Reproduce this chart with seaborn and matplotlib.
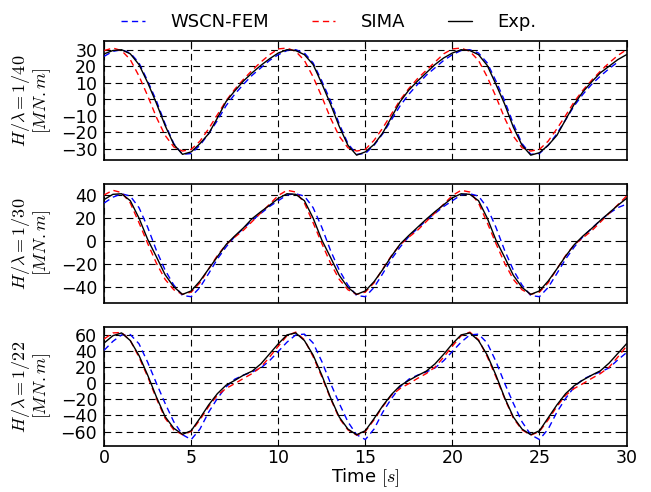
import numpy as np
import pandas as pd
import matplotlib
matplotlib.use("Agg")
import matplotlib.pyplot as plt
import seaborn as sns

time = np.arange(0, 30.01, 0.5)
time_blue_top = time[:-1]  # WSCN-FEM in the top panel stops at 29.5 s

# H/lambda = 1/40
exp_40 = [27.5, 29.5, 30, 27.5, 21, 10, -2.5, -16, -27.5, -33.5, -32, -27, -21, -11.5, -1.5, 5, 11, 16, 20.5, 24.5,
          28, 30, 29.5, 27, 21, 9.5, -3, -16.5, -28, -34, -32, -27.5, -20.5, -11, -1.5, 5.5, 11, 16, 21, 25,
          28, 30, 29.5, 27, 20.5, 9, -3, -17, -28, -34, -32.5, -28, -22, -12.5, -3, 4.5, 10.5, 16, 20, 24,
          27]
sima_40 = [29.5, 31, 29.5, 24, 14, 2, -11, -22, -29, -31.5, -30.5, -25.5, -18, -9.5, -1, 6, 12, 17.5, 22.5, 27,
           30.5, 31, 29, 23.5, 13.5, 1.5, -11.5, -22.5, -29.5, -31.5, -30.5, -25, -17.5, -9, -0.5, 6.5, 12.5, 17.5, 22.5, 27.5,
           30.5, 31, 29, 23.5, 13.5, 1.5, -11.5, -22.5, -29.5, -31.5, -30.5, -25.5, -18, -10, -1.5, 5.5, 11.5, 17, 22, 26.5,
           30]
wscn_40 = [26, 29, 30, 28, 22, 11, -1, -15, -27, -33.5, -33, -28, -21, -13, -4, 3, 9, 14.5, 19, 23.5,
           27, 29.5, 30, 28, 22, 11, -1, -15, -27, -33.5, -33, -28, -21, -12.5, -4, 3, 9, 14.5, 19, 23.5,
           27, 29.5, 30, 28, 22, 11, -1, -15, -27, -33.5, -33, -28, -21, -12.5, -4, 3, 9, 14, 18.5, 22.5]

# H/lambda = 1/30
exp_30 = [36, 40.5, 41, 35, 20, 1.5, -13.5, -29, -39.5, -46, -43, -34.5, -24, -13.5, -3, 4.5, 11.5, 19.5, 25.5, 31,
          37, 41, 40.5, 35, 20, 1, -14, -29.5, -40, -46, -43, -35, -24.5, -13, -2.5, 5, 12, 19, 25.5, 31.5,
          37.5, 41, 40.5, 35, 20, 1, -14, -29.5, -40, -46, -43, -34.5, -24, -13, -3, 4.5, 11, 18, 24.5, 31,
          37]
sima_30 = [40, 44, 42, 33, 16, -2, -19, -33, -42, -46, -44, -36, -24, -12.5, -3, 3.5, 9.5, 17, 24.5, 32,
           39.5, 44, 42.5, 33, 16, -2, -19, -33, -42, -46, -44, -36, -24, -12.5, -3, 3.5, 9.5, 17, 24.5, 32,
           39.5, 44, 42.5, 33, 16, -2, -19, -33, -42, -46, -44, -36, -24, -12.5, -3, 3, 9, 16.5, 24, 31.5,
           39]
wscn_30 = [33, 38, 41, 39, 29, 12, -8, -25, -38, -47, -48, -40, -28, -15.5, -5, 4, 11, 18, 24, 30,
           35, 40, 41, 39, 29, 12, -8, -25, -38, -47, -48, -40, -28, -15.5, -5, 4, 11, 18, 24, 30,
           35, 40, 41, 39, 29, 12, -8, -25, -38, -47, -48, -40, -28, -15.5, -5, 4, 11, 18, 24, 29,
           32]

# H/lambda = 1/22
exp_22 = [50, 59, 62.5, 53, 34.5, 10, -17, -41.5, -56, -63.5, -59, -43.5, -27, -13, -2.5, 3.5, 10, 15, 24, 36.5,
          49, 60, 62.5, 53, 35, 10, -18, -42, -57, -64, -59, -44, -28, -14, -3, 3.5, 9.5, 15, 24, 36,
          49, 60, 62.5, 53, 35, 10, -18, -42, -57, -64, -59, -43, -27, -13, -3, 4, 10, 15.5, 25, 37,
          49]
sima_22 = [55, 62.5, 63, 53, 32.5, 8, -19, -43.5, -58, -64, -60, -45.5, -29, -15, -6.5, -0.5, 6, 12, 20, 32.5,
           46, 59, 63.5, 54, 33, 8, -19, -43.5, -58, -64.5, -60, -45.5, -29, -15, -6.5, -0.5, 6, 12, 20, 32.5,
           46, 59, 63.5, 54, 33, 8, -19, -43.5, -58, -64.5, -60, -45.5, -29, -15, -6.5, -0.5, 6, 12, 20, 32.5,
           46]
wscn_22 = [41, 52, 60, 60.5, 49, 26, 0, -25, -48, -64, -70, -57, -36, -19, -4.5, 5, 10, 14, 19, 28,
           39.5, 51, 60, 61, 50, 27, 0, -25, -48, -64, -70, -57, -36, -19, -4.5, 5, 10, 14, 19, 28,
           39.5, 51, 60, 61, 50, 27, 0, -25, -48, -64, -70, -57, -36, -19, -4.5, 5, 10, 14, 19, 29,
           38]

panel_labels = ["$H/\\lambda=1/40$\n$[MN.m]$", "$H/\\lambda=1/30$\n$[MN.m]$", "$H/\\lambda=1/22$\n$[MN.m]$"]
series_names = ["WSCN-FEM", "SIMA", "Exp."]
yticks = [[-30, -20, -10, 0, 10, 20, 30], [-40, -20, 0, 20, 40], [-60, -40, -20, 0, 20, 40, 60]]
ylims = [(-37, 35.3), (-53.5, 49.5), (-78, 70)]
xticks = [0, 5, 10, 15, 20, 25, 30]

# ---------------- style ----------------
sns.set_theme(style="white")
plt.rcParams.update({
    "font.family": ["DejaVu Sans"],
    "mathtext.fontset": "cm",
    "font.size": 12,
    "text.color": "black",
    "axes.labelcolor": "black",
    "xtick.direction": "in",
    "ytick.direction": "in",
    "xtick.top": True,
    "ytick.right": True,
    "xtick.major.size": 4,
    "ytick.major.size": 4,
    "xtick.major.pad": 2,
    "ytick.major.pad": 5,
    "xtick.labelsize": 12.5,
    "ytick.labelsize": 12.5,
    "axes.edgecolor": "black",
    "axes.linewidth": 1.2,
    "xtick.color": "black",
    "ytick.color": "black",
})

fig, axes = plt.subplots(3, 1, sharex=True, figsize=(6.51, 4.92), dpi=100)
fig.subplots_adjust(left=0.160, right=0.9624, top=0.9167, bottom=0.0935, hspace=0.2)

panels = [
    (time_blue_top, wscn_40, sima_40, exp_40),
    (time, wscn_30, sima_30, exp_30),
    (time, wscn_22, sima_22, exp_22),
]

dash = (0, (4.5, 3.0))
for i, (ax, (tb, wb, sm, ex)) in enumerate(zip(axes, panels)):
    sns.lineplot(x=tb, y=wb, ax=ax, color="#0000ff", linewidth=1.0, linestyle=dash,
                 label=series_names[0], zorder=3)
    sns.lineplot(x=time, y=sm, ax=ax, color="#ff0000", linewidth=1.0, linestyle=dash,
                 label=series_names[1], zorder=3)
    sns.lineplot(x=time, y=ex, ax=ax, color="black", linewidth=1.0, linestyle="-",
                 label=series_names[2], zorder=4)
    if ax.get_legend() is not None:
        ax.get_legend().remove()
    ax.set_xlim(0, 30)
    ax.set_ylim(*ylims[i])
    ax.set_yticks(yticks[i])
    ax.set_xticks(xticks)
    ax.grid(True, color="black", linestyle=(0, (6, 4)), linewidth=0.8)
    ax.set_axisbelow(True)
    ax.set_ylabel(panel_labels[i], fontsize=13, linespacing=1.0, color="black")
    ax.yaxis.set_label_coords(-0.097, 0.5)
    for sp in ax.spines.values():
        sp.set_visible(True)
        sp.set_color("black")
    ax.tick_params(axis="both", which="major", length=4, width=0.8, colors="black")

axes[2].set_xlabel("Time $[s]$", fontsize=13, labelpad=0, color="black")
axes[2].set_xticklabels([str(v) for v in xticks])

handles, labels = axes[0].get_legend_handles_labels()
fig.legend(handles, labels, loc="center", bbox_to_anchor=(0.505, 1 - 22 / 492), ncol=3,
           frameon=False, handlelength=1.3, handletextpad=1.4, columnspacing=2.4, fontsize=13)

fig.savefig("out.png", dpi=100)
